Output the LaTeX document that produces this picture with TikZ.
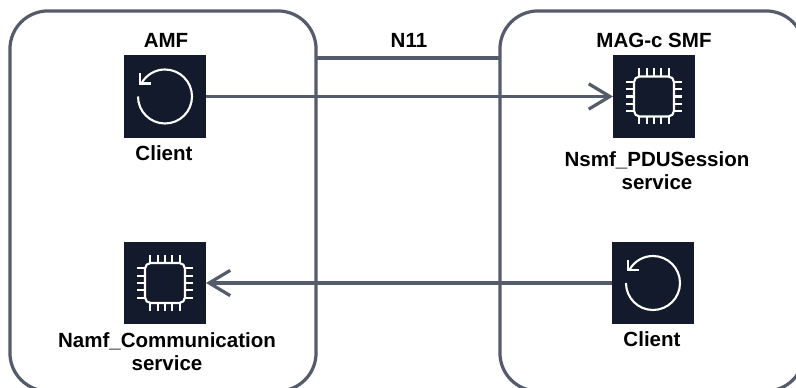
\documentclass[tikz,border=0pt]{standalone}
\usepackage{fontspec}
\setmainfont{Liberation Sans}
\usetikzlibrary{arrows.meta}
\definecolor{linegray}{HTML}{545B6B}
\definecolor{icondark}{HTML}{131A2B}
\tikzset{
  clienticon/.pic={
    \draw[glyph] (-27,0) arc (180:510:27);
    \draw[glyph] (-25,23) -- (-25,13) -- (-14.5,13);
  },
  chipicon/.pic={
    \draw[glyph, rounded corners=4] (-20,-20) rectangle (20,20);
    \foreach \p in {-14.6,-7.3,0,7.3,14.6} {
      \draw[glyph] (\p,20) -- (\p,28);
      \draw[glyph] (\p,-20) -- (\p,-28);
      \draw[glyph] (20,\p) -- (28,\p);
      \draw[glyph] (-20,\p) -- (-28,\p);
    }
  }
}
\begin{document}
\begin{tikzpicture}[x=0.025cm, y=0.025cm]
    \tikzstyle{every node}=[font=\bfseries\fontsize{14.6}{16.2}\selectfont, text=black, align=center, inner sep=0pt, outer sep=0pt]
    \tikzstyle{nfbox}=[draw=linegray, line width=2.3pt, rounded corners=0.95cm]
    \tikzstyle{iconbox}=[fill=icondark, minimum size=2.05cm]
    \tikzstyle{glyph}=[white, line width=1.5pt]
    \tikzstyle{link}=[linegray, line width=2.3pt]
    \tikzstyle{flow}=[link, -{Straight Barb[length=15pt, width=18pt]}]

    \path[use as bounding box, clip] (0,0) rectangle (796,388);

    \node[nfbox, minimum width=7.65cm, minimum height=9.5cm] (amf) at (163,187) {};
    \node[nfbox, minimum width=7.6cm, minimum height=9.5cm] (smf) at (652,187) {};

    \node[iconbox] (amfclient) at (165,291.5) {};
    \node[iconbox] (smfservice) at (654,291.5) {};
    \node[iconbox] (amfservice) at (165,105) {};
    \node[iconbox] (smfclient) at (653,105) {};

    \pic at (amfclient) {clienticon};
    \pic at (smfservice) {chipicon};
    \pic at (amfservice) {chipicon};
    \pic at (smfclient) {clienticon};

    \node (amftitle) at (166,348) {AMF};
    \node (smftitle) at (654,348) {MAG-c SMF};
    \node (n11) at (409,348) {N11};
    \node (amfclientlabel) at (164,235) {Client};
    \node (smfservicelabel) at (657,217) {Nsmf\_PDUSession\\service};
    \node (amfservicelabel) at (167,36) {Namf\_Communication\\service};
    \node (smfclientlabel) at (652,49) {Client};

    \coordinate (n11line) at (408,330);
    \draw[link] (amf.east |- n11line) -- (smf.west |- n11line);
    \draw[flow] (amfclient) -- (smfservice);
    \draw[flow] (smfclient) -- (amfservice);
\end{tikzpicture}
\end{document}
